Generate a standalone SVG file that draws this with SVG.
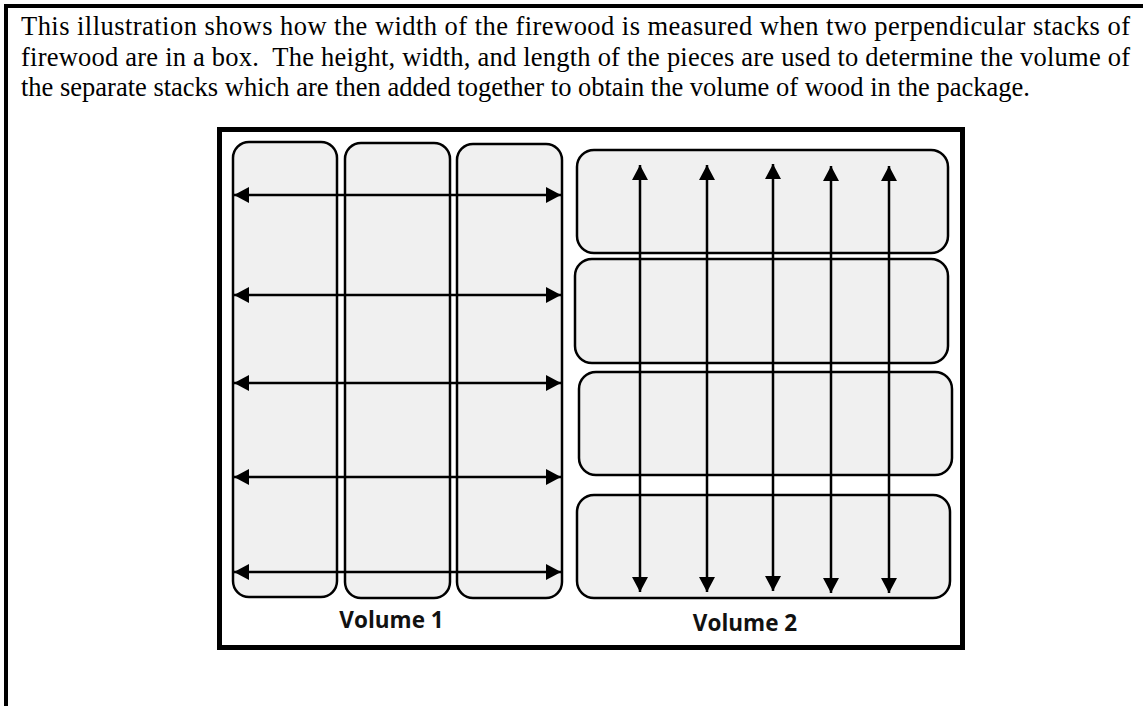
<svg xmlns="http://www.w3.org/2000/svg" width="1143" height="706" viewBox="0 0 1143 706">
<style>
.cap{font-family:'Liberation Serif','Times New Roman',serif;font-size:26.5px;fill:#000;white-space:pre}
.lbl{font-family:'Open Sans','Liberation Sans',sans-serif;font-weight:700;font-size:22.5px;fill:#111;text-anchor:middle}
.piece{fill:#f0f0f0;stroke:#000;stroke-width:2.5}
.arr{stroke:#000;stroke-width:2.5;fill:none;marker-start:url(#ah);marker-end:url(#ah)}
</style>
<defs>
<marker id="ah" markerUnits="userSpaceOnUse" viewBox="0 0 16 16" markerWidth="16" markerHeight="16" refX="15" refY="8" orient="auto-start-reverse"><path d="M0,0 L15,8 L0,16 Z" fill="#000"/></marker>
</defs>
<rect width="1143" height="706" fill="#fff"/>
<g id="page-frame">
<path d="M6,706 V6 H1143" fill="none" stroke="#000" stroke-width="4"/>
</g>
<g id="caption">
<text class="cap" x="21" y="35" textLength="1109" lengthAdjust="spacing">This illustration shows how the width of the firewood is measured when two perpendicular stacks of</text>
<text class="cap" x="21" y="65.5" textLength="1109" lengthAdjust="spacing">firewood are in a box.  The height, width, and length of the pieces are used to determine the volume of</text>
<text class="cap" x="21" y="96">the separate stacks which are then added together to obtain the volume of wood in the package.</text>
</g>
<g id="box">
<rect x="219.5" y="129.5" width="743" height="518" fill="#fff" stroke="#000" stroke-width="5"/>
</g>
<g id="volume1-stack">
<rect id="col1" class="piece" x="233" y="142" width="104" height="455" rx="16"/>
<rect id="col2" class="piece" x="345" y="143" width="105" height="455" rx="16"/>
<rect id="col3" class="piece" x="457" y="144" width="105" height="454" rx="16"/>
</g>
<g id="volume2-stack">
<rect id="row1" class="piece" x="577" y="150" width="371" height="103" rx="17"/>
<rect id="row2" class="piece" x="575" y="259" width="373" height="104" rx="17"/>
<rect id="row3" class="piece" x="579" y="372" width="373" height="103" rx="17"/>
<rect id="row4" class="piece" x="577" y="495" width="373" height="103" rx="17"/>
</g>
<g id="connectors">
<line class="arr" x1="234" y1="195" x2="561" y2="195"/>
<line class="arr" x1="234" y1="295" x2="561" y2="295"/>
<line class="arr" x1="234" y1="383" x2="561" y2="383"/>
<line class="arr" x1="234" y1="477" x2="561" y2="477"/>
<line class="arr" x1="234" y1="572" x2="561" y2="572"/>
<line class="arr" x1="640" y1="165" x2="640" y2="592"/>
<line class="arr" x1="707" y1="165" x2="707" y2="592"/>
<line class="arr" x1="773" y1="164" x2="773" y2="591"/>
<line class="arr" x1="831" y1="166" x2="831" y2="593"/>
<line class="arr" x1="889" y1="166" x2="889" y2="593"/>
</g>
<g id="label-volume1"><text class="lbl" x="391.5" y="628">Volume 1</text></g>
<g id="label-volume2"><text class="lbl" x="745" y="631">Volume 2</text></g>
</svg>
